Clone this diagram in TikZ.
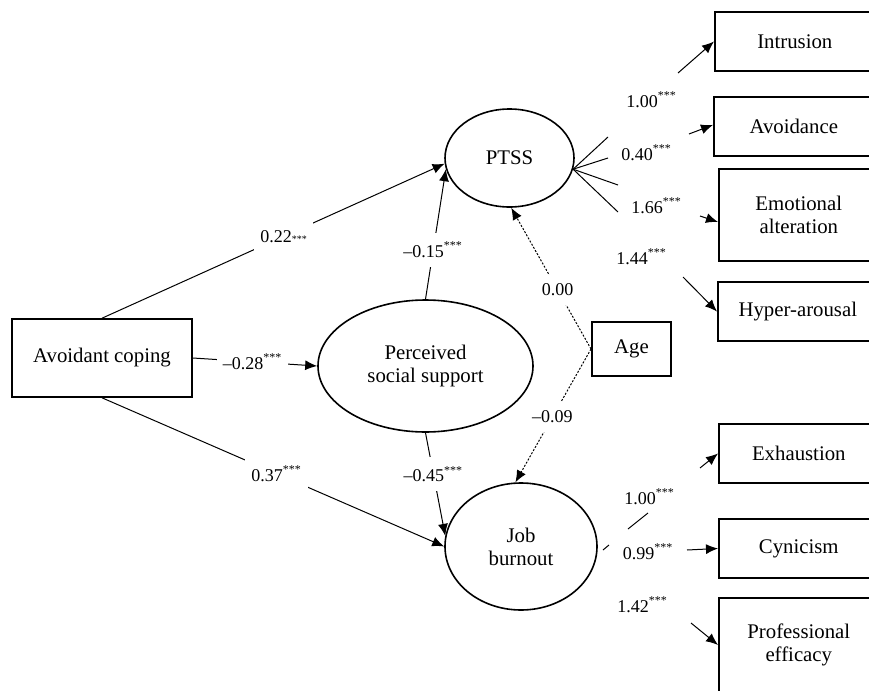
\documentclass[tikz,border=0pt]{standalone}
\usepackage{fontspec}
\setmainfont{Liberation Serif}
\usetikzlibrary{arrows.meta,calc,shapes.geometric}
\tikzset{%
	obs/.style    = {draw, rectangle, line width=0.8pt, minimum height=29.5pt, align=center, font=\fontsize{10.4}{11.5}\selectfont},
	ind/.style    = {obs, anchor=west, minimum width=80pt},
	latent/.style = {draw, ellipse, line width=0.8pt, inner sep=0pt, align=center, font=\fontsize{10.4}{11.5}\selectfont},
	link/.style   = {line width=0.5pt, -{Latex[length=6pt,width=5pt]}},
	agelink/.style= {link, dash pattern=on 1pt off 0.8pt},
	stub/.style   = {line width=0.5pt},
	coef/.style   = {fill=white, inner xsep=3pt, inner ysep=4.5pt, font=\fontsize{9}{10}\selectfont},
	load/.style   = {inner sep=1pt, font=\fontsize{9}{10}\selectfont},
}
\newcommand{\sigstar}[1]{#1\textsuperscript{***}}
\newcommand{\lowstar}[1]{#1{\tiny ***}}

\begin{document}
\begin{tikzpicture}[x=0.5pt,y=-0.5pt]
	\clip (0,0) rectangle (869,691);
	
	% variables
	\node[obs, minimum width=90pt, minimum height=39pt] (ac) at (102,358) {Avoidant coping};
	\node[latent, minimum width=107.5pt, minimum height=66pt] (pss) at (425.5,366) {Perceived\\social support};
	\node[latent, minimum width=64.5pt, minimum height=49pt] (ptss) at (509.5,158) {PTSS};
	\node[latent, minimum width=76pt, minimum height=63.5pt] (job) at (521,546.5) {Job\\burnout};
	\node[obs, line width=1pt, minimum width=39.5pt, minimum height=27pt] (age) at (631.5,349) {Age};
	
	% indicators
	\node[ind] (intr) at (714,41.5) {Intrusion};
	\node[ind] (avoid) at (713,126.5) {Avoidance};
	\node[ind, minimum height=46pt] (emo) at (718,215) {Emotional\\alteration};
	\node[ind] (hyp) at (717,311.5) {Hyper-arousal};
	\node[ind] (exh) at (718,453.5) {Exhaustion};
	\node[ind] (cyn) at (718,548.5) {Cynicism};
	\node[ind, minimum height=47pt] (prof) at (718,645) {Professional\\efficacy};
	
	% structural paths
	\draw[link] (ac.north) -- node[coef, pos=0.53] {\lowstar{0.22}} (ptss.185);
	\draw[link] (ac.east) -- node[coef, pos=0.48] {\sigstar{--0.28}} (pss.west);
	\draw[link] (ac.south) -- node[coef, pos=0.51] {\sigstar{0.37}} (job.west);
	\draw[link] (pss.north) -- node[coef, pos=0.38] {\sigstar{--0.15}} (ptss.190);
	\draw[link] (pss.south) -- node[coef, pos=0.40] {\sigstar{--0.45}} (job.172);
	\draw[agelink] (age.west) -- node[coef, pos=0.42] {0.00} (ptss.272);
	\draw[agelink] (age.west) -- node[coef, pos=0.51] {--0.09} (job.95);
	
	% PTSS loadings
	\coordinate (pf) at (ptss.-10);
	\foreach \n/\x/\y in {f1/608/137, f2/608/158, f3/618/185, f4/618/212}
		\coordinate (\n) at (\x,\y);
	\foreach \n in {f1,f2,f3,f4}
		\draw[stub] (pf) -- (\n);
	\coordinate (a1) at (678,73);
	\coordinate (a2) at (689,134);
	\coordinate (a3) at (700,216);
	\coordinate (a4) at (683,277);
	\draw[link] (a1) -- (intr.west);
	\draw[link] (a2) -- ([yshift=0.8pt]avoid.west);
	\draw[link] (a3) -- ([yshift=-3.5pt]emo.west);
	\draw[link] (a4) -- (hyp.west);
	\node[load] (l1) at (651.5,100) {\sigstar{1.00}};
	\node[load] (l2) at (646.5,153) {\sigstar{0.40}};
	\node[load] (l3) at (656.5,206) {\sigstar{1.66}};
	\node[load] (l4) at (641.5,257) {\sigstar{1.44}};
	
	% burnout loadings
	\coordinate (t1) at (603,550);
	\coordinate (t2) at (609,545);
	\coordinate (s1) at (628,529);
	\coordinate (s2) at (648,513);
	\draw[stub] (t1) -- (t2);
	\draw[stub] (s1) -- (s2);
	\coordinate (b1) at (700,468);
	\coordinate (b2) at (687,550);
	\coordinate (b3) at (691,623);
	\draw[link] (b1) -- (exh.west);
	\draw[link] (b2) -- (cyn.west);
	\draw[link] (b3) -- (prof.west);
	\node[load] (l5) at (649.5,497) {\sigstar{1.00}};
	\node[load] (l6) at (648,552) {\sigstar{0.99}};
	\node[load] (l7) at (642.5,605) {\sigstar{1.42}};
	
\end{tikzpicture}
\end{document}
